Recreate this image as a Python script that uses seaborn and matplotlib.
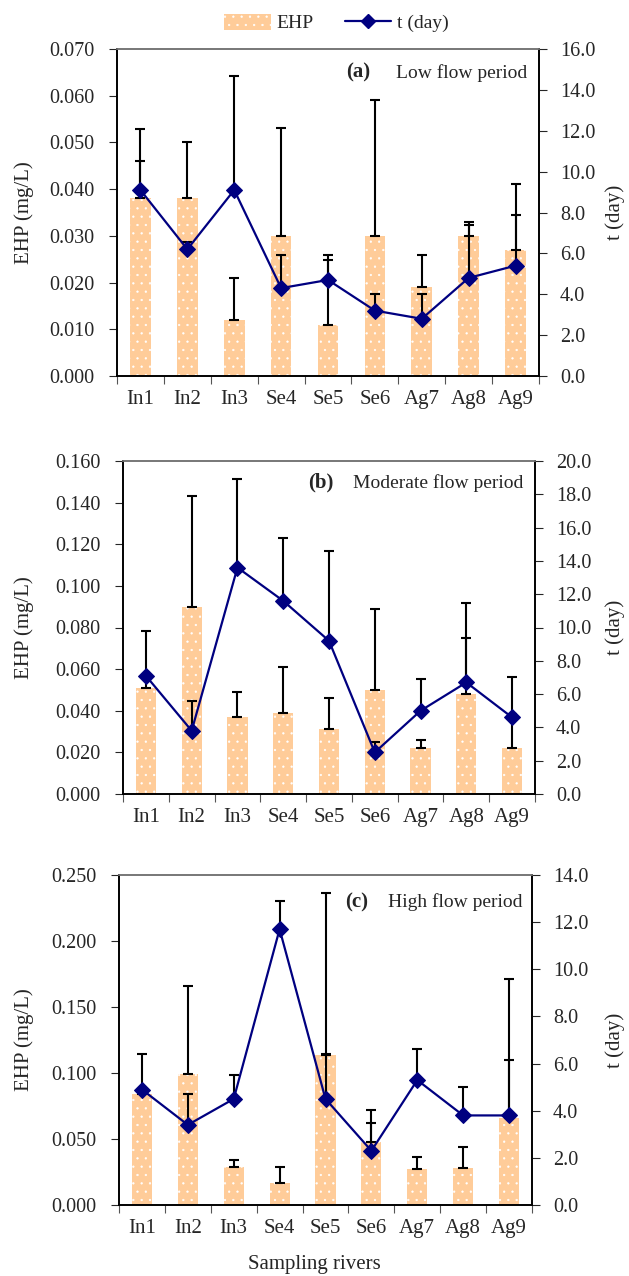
import numpy as np
import matplotlib
matplotlib.use("Agg")
import matplotlib.pyplot as plt
import matplotlib.ticker as mticker
from matplotlib.patches import Patch
from matplotlib.lines import Line2D
import seaborn as sns

# =========================
# DATA
# =========================
rivers = ["In1", "In2", "In3", "Se4", "Se5", "Se6", "Ag7", "Ag8", "Ag9"]

# (a) low flow
ehp_low = [0.038, 0.038, 0.012, 0.030, 0.011, 0.030, 0.019, 0.030, 0.027]
ehp_low_err = [0.008, 0.012, 0.009, 0.023, 0.015, 0.029, 0.007, 0.003, 0.014]
t_low = [9.1, 6.2, 9.1, 4.3, 4.7, 3.2, 2.8, 4.8, 5.4]
t_low_err = [3.0, 0.35, 5.6, 1.6, 1.0, 0.8, 1.2, 2.6, 2.5]

# (b) moderate flow
ehp_mod = [0.051, 0.090, 0.037, 0.039, 0.031, 0.050, 0.022, 0.048, 0.022]
ehp_mod_err = [0.0055, 0.053, 0.012, 0.022, 0.015, 0.039, 0.004, 0.027, 0.034]
t_mod = [7.1, 3.8, 13.6, 11.6, 9.2, 2.5, 5.0, 6.7, 4.6]
t_mod_err = [2.7, 1.8, 5.3, 3.8, 5.4, 0.6, 1.9, 4.8, 0.2]

# (c) high flow
ehp_high = [0.084, 0.099, 0.029, 0.017, 0.114, 0.048, 0.027, 0.028, 0.066]
ehp_high_err = [0.0035, 0.067, 0.005, 0.012, 0.122, 0.024, 0.009, 0.016, 0.044]
t_high = [4.9, 3.4, 4.5, 11.7, 4.5, 2.3, 5.3, 3.8, 3.8]
t_high_err = [1.5, 1.3, 1.0, 1.2, 1.9, 1.2, 1.3, 1.2, 5.8]

# =========================
# STYLE
# =========================
sns.set_style("ticks")
plt.rcParams["font.family"] = ["Liberation Serif", "DejaVu Serif"]
plt.rcParams["hatch.color"] = "white"
plt.rcParams["hatch.linewidth"] = 0.4

bar_color = "#FFCC99"
line_color = "#000080"
W, H = 629, 1276

panels = [
    dict(ehp=ehp_low, ehp_err=ehp_low_err, t=t_low, t_err=t_low_err,
         ylim=0.070, ystep=0.010, tlim=16.0, tstep=2.0,
         tag="(a)", label="Low flow period", tag_x=0.60, lab_x=0.661, txt_y=0.927,
         rect=[117/W, 1-376/H, 422/W, 327/H]),
    dict(ehp=ehp_mod, ehp_err=ehp_mod_err, t=t_mod, t_err=t_mod_err,
         ylim=0.160, ystep=0.020, tlim=20.0, tstep=2.0,
         tag="(b)", label="Moderate flow period", tag_x=0.51, lab_x=0.558, txt_y=0.934,
         rect=[123/W, 1-794/H, 412/W, 333/H]),
    dict(ehp=ehp_high, ehp_err=ehp_high_err, t=t_high, t_err=t_high_err,
         ylim=0.250, ystep=0.050, tlim=14.0, tstep=2.0,
         tag="(c)", label="High flow period", tag_x=0.603, lab_x=0.651, txt_y=0.918,
         rect=[119/W, 1-1205/H, 413/W, 330/H]),
]

fig = plt.figure(figsize=(W/100, H/100), dpi=100)
pos = np.arange(len(rivers))
zeros = np.zeros(len(rivers))

for p in panels:
    ax = fig.add_axes(p["rect"])
    sns.barplot(x=rivers, y=p["ehp"], color=bar_color, width=0.44,
                saturation=1, ax=ax, zorder=1)
    for patch in ax.patches:
        patch.set_hatch("..")
        patch.set_edgecolor("white")
        patch.set_linewidth(0)
    ax.errorbar(pos, p["ehp"], yerr=[zeros, p["ehp_err"]], fmt="none",
                ecolor="black", elinewidth=1.5, capsize=3.3, capthick=1.5, zorder=3)

    ax.set_xlim(-0.5, len(rivers) - 0.5)
    ax.set_ylim(0, p["ylim"])
    ax.yaxis.set_major_locator(mticker.MultipleLocator(p["ystep"]))
    ax.yaxis.set_major_formatter(mticker.FormatStrFormatter("%.3f"))
    ax.set_ylabel("EHP (mg/L)", fontsize=15)
    ax.yaxis.set_label_coords((34/W - p["rect"][0]) / p["rect"][2], 0.5)
    ax.tick_params(axis="y", labelsize=14.5, direction="out", length=6, width=0.8, pad=10)
    ax.tick_params(axis="x", which="major", length=0, labelsize=15, pad=10)
    ax.set_xticks(np.arange(-0.5, len(rivers)), minor=True)
    ax.tick_params(axis="x", which="minor", direction="out", length=6, width=0.8, color="#555555")

    ax2 = ax.twinx()
    ax2.errorbar(pos, p["t"], yerr=[zeros, p["t_err"]], fmt="none",
                 ecolor="black", elinewidth=1.5, capsize=3.3, capthick=1.5, zorder=2)
    sns.lineplot(x=pos, y=p["t"], color=line_color, marker="D", markersize=8,
                 markeredgecolor=line_color, linewidth=1.6, ax=ax2, zorder=4)
    ax2.set_ylim(0, p["tlim"])
    ax2.yaxis.set_major_locator(mticker.MultipleLocator(p["tstep"]))
    ax2.yaxis.set_major_formatter(mticker.FormatStrFormatter("%.1f"))
    ax2.set_ylabel("t (day)", fontsize=15)
    ax2.yaxis.set_label_coords((605/W - p["rect"][0]) / p["rect"][2], 0.5)
    ax2.tick_params(axis="y", labelsize=14.5, direction="out", length=6, width=0.8, pad=9)

    for a in (ax, ax2):
        for s in ["left", "right", "bottom"]:
            a.spines[s].set_color("black")
            a.spines[s].set_linewidth(1.2)
        a.spines["top"].set_visible(True)
        a.spines["top"].set_color("#777777")
        a.spines["top"].set_linewidth(1.2)

    ax2.text(p["tag_x"], p["txt_y"], p["tag"], transform=ax2.transAxes,
             ha="right", va="center", fontsize=15, fontweight="bold")
    ax2.text(p["lab_x"], p["txt_y"], p["label"], transform=ax2.transAxes,
             ha="left", va="center", fontsize=14)

fig.text(0.5, 1 - 1265/H, "Sampling rivers", ha="center", va="center", fontsize=15)

handles = [
    Patch(facecolor=bar_color, edgecolor="white", hatch="..", linewidth=0, label="EHP"),
    Line2D([0], [0], color=line_color, marker="D", markersize=7, linewidth=1.6, label="t (day)"),
]
fig.legend(handles=handles, loc="center", bbox_to_anchor=(0.535, 1 - 23/H), ncol=2,
           frameon=False, fontsize=14, handlelength=2.4, handleheight=0.9,
           columnspacing=1.6, handletextpad=0.3)

fig.savefig("out.png", dpi=100)
